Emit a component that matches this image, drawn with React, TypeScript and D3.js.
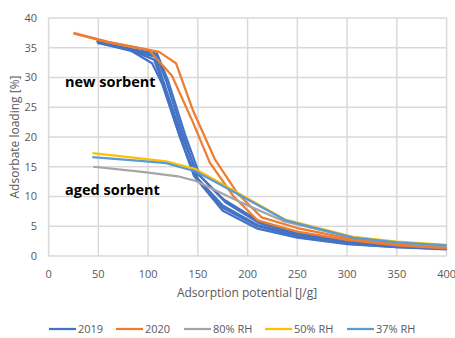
import * as d3 from 'd3';

// [adsorption potential J/g, loading %]
type Pt = [number, number];

const xTicks = [0, 50, 100, 150, 200, 250, 300, 350, 400];
const yTicks = [0, 5, 10, 15, 20, 25, 30, 35, 40];

const runs2019: Pt[][] = [
  [[49, 36.0], [80, 34.8], [104, 32.4], [114, 29], [130, 21], [146, 13.5], [175, 7.6], [210, 4.6], [250, 3.1], [300, 2.0], [350, 1.5], [400, 1.1]],
  [[49, 35.8], [80, 34.7], [108, 33.8], [118, 29.5], [134, 21], [150, 13], [175, 8.5], [210, 5.2], [250, 3.5], [300, 2.2], [350, 1.6], [400, 1.2]],
  [[50, 36.0], [82, 34.8], [109, 34.0], [120, 29.5], [137, 20.5], [152, 13.5], [178, 9.0], [212, 5.5], [250, 3.7], [300, 2.3], [350, 1.7], [400, 1.3]],
  [[50, 35.9], [80, 34.6], [107, 33.5], [116, 29], [133, 20.5], [149, 14], [176, 9.5], [212, 5.8], [250, 3.9], [300, 2.5], [350, 1.8], [400, 1.4]],
  [[48, 36.1], [81, 34.7], [106, 33.0], [117, 28], [132, 20], [148, 13.2], [174, 8.2], [210, 5.0], [250, 3.3], [300, 2.1], [350, 1.5], [400, 1.2]],
];

const runs2020: Pt[][] = [
  [[25, 37.5], [60, 36.0], [111, 34.3], [128, 32.4], [145, 24.5], [167, 16.3], [190, 10.5], [214, 6.5], [250, 4.7], [300, 3.0], [350, 2.0], [400, 1.4]],
  [[25, 37.4], [60, 35.9], [101, 34.6], [124, 30.3], [145, 22.5], [162, 15.7], [186, 10.0], [210, 6.0], [250, 4.1], [300, 2.7], [350, 1.8], [400, 1.3]],
];

const rh80: Pt[] = [[45, 15.0], [92, 14.2], [130, 13.4], [148, 12.6], [192, 9.1], [237, 5.8], [300, 3.3], [350, 2.3], [400, 1.7]];
const rh50: Pt[] = [[44, 17.3], [92, 16.4], [118, 15.9], [148, 14.6], [185, 11.1], [238, 6.1], [306, 3.2], [350, 2.4], [400, 1.85]];
const rh37: Pt[] = [[44, 16.6], [92, 16.0], [118, 15.6], [148, 14.2], [185, 10.9], [238, 6.0], [306, 3.1], [350, 2.3], [400, 1.8]];

const legendNames = ['2019', '2020', '80% RH', '50% RH', '37% RH'];
const colors = ['#4472C4', '#ED7D31', '#A5A5A5', '#FFC000', '#5B9BD5'];
const legendX = [49, 116, 184, 265, 347];

const font = '"Open Sans", "Liberation Sans", sans-serif';

export default function App() {
  const x = d3.scaleLinear().domain([0, 400]).range([48.6, 446.6]);
  const y = d3.scaleLinear().domain([0, 40]).range([256, 18]);
  const line = d3.line<Pt>().x((d) => x(d[0])).y((d) => y(d[1]));

  const series: { data: Pt[]; color: string }[] = [
    ...runs2019.map((d) => ({ data: d, color: colors[0] })),
    ...runs2020.map((d) => ({ data: d, color: colors[1] })),
    { data: rh80, color: colors[2] },
    { data: rh50, color: colors[3] },
    { data: rh37, color: colors[4] },
  ];

  return (
    <svg width={455} height={338} style={{ position: 'absolute', left: 0, top: 0, background: '#fff' }} fontFamily={font}>
      {yTicks.map((t) => (
        <g key={'y' + t}>
          <line x1={x(0)} x2={x(400)} y1={y(t)} y2={y(t)} stroke="#D9D9D9" strokeWidth={1.5} />
          <text x={37} y={y(t)} dy="0.35em" textAnchor="end" fontSize={11} fill="#595959">{t}</text>
        </g>
      ))}
      {xTicks.map((t) => (
        <g key={'x' + t}>
          <line x1={x(t)} x2={x(t)} y1={y(0)} y2={y(40)} stroke="#D9D9D9" strokeWidth={1.5} />
          <text x={x(t)} y={274} dy="0.35em" textAnchor="middle" fontSize={11} fill="#595959">{t}</text>
        </g>
      ))}
      {series.map((s, i) => (
        <path key={i} d={line(s.data) ?? ''} fill="none" stroke={s.color} strokeWidth={2.25} strokeLinejoin="round" />
      ))}
      <text x={65} y={82} dy="0.35em" fontSize={14.5} fontWeight="bold" fill="#000">new sorbent</text>
      <text x={65} y={190} dy="0.35em" fontSize={14.5} fontWeight="bold" fill="#000">aged sorbent</text>
      <text x={247} y={293} dy="0.35em" textAnchor="middle" fontSize={12} fill="#595959">Adsorption potential [J/g]</text>
      <text transform="translate(15,137) rotate(-90)" dy="0.35em" textAnchor="middle" fontSize={12} fill="#595959">Adsorbate loading [%]</text>
      {legendNames.map((n, i) => (
        <g key={n}>
          <line x1={legendX[i]} x2={legendX[i] + 27} y1={329} y2={329} stroke={colors[i]} strokeWidth={2.25} />
          <text x={legendX[i] + 29} y={329} dy="0.35em" fontSize={11} fill="#595959">{n}</text>
        </g>
      ))}
    </svg>
  );
}
